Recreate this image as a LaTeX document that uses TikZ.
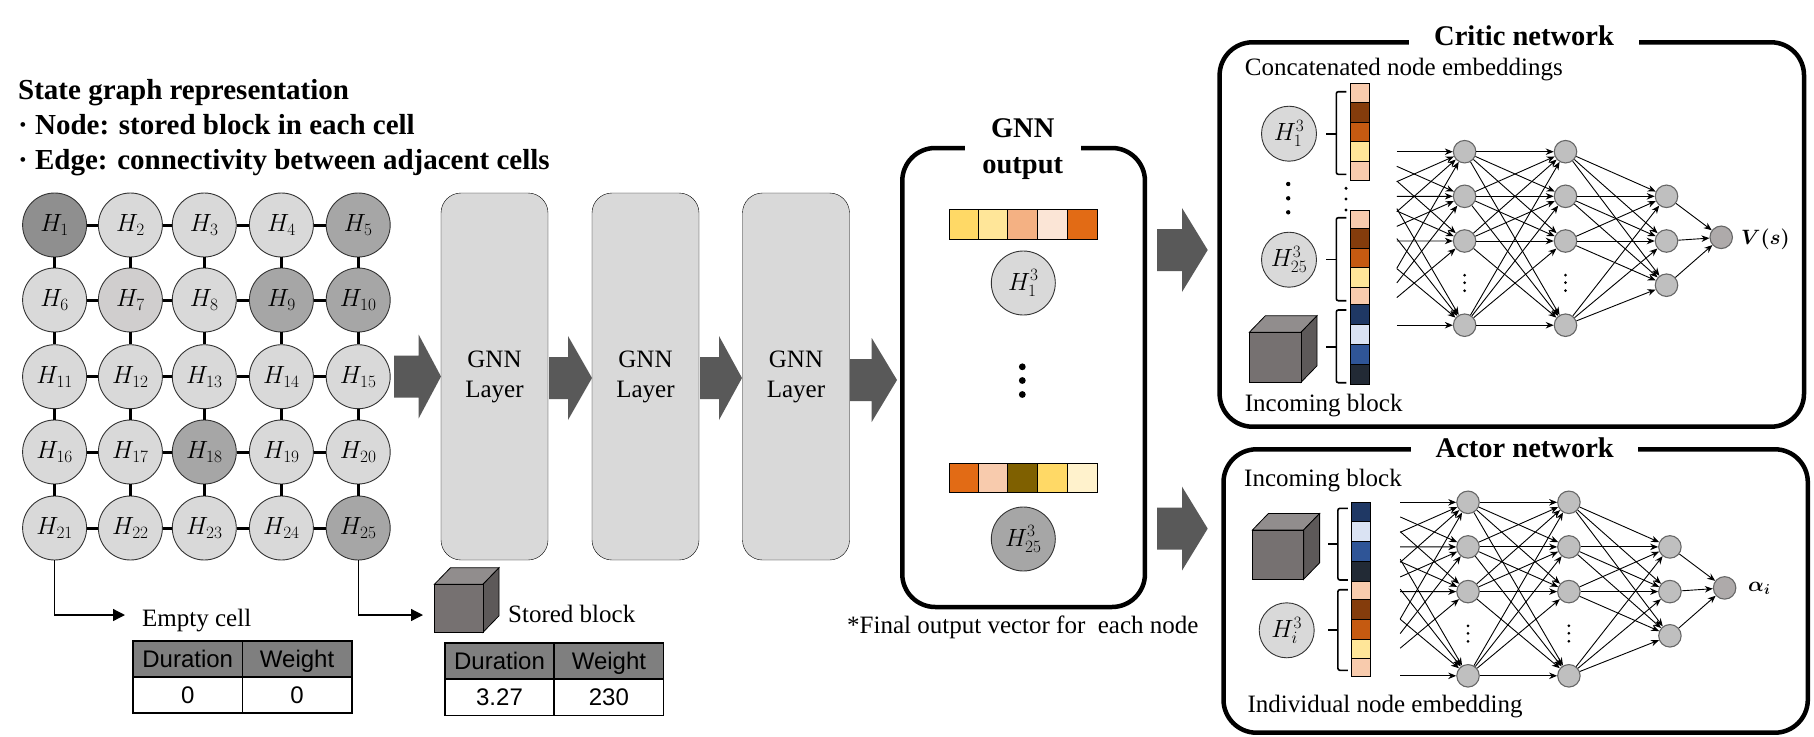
\documentclass[tikz,border=0pt]{standalone}
\usepackage{fontspec}
\setmainfont{Liberation Serif}
\newfontfamily\arialfont{Liberation Sans}
\DeclareMathSizes{25}{25}{19}{15}
\usetikzlibrary{arrows.meta,calc}

\definecolor{cellgray}{HTML}{D9D9D9}
\definecolor{midgray}{HTML}{A6A6A6}
\definecolor{darkgray}{HTML}{8F8F8F}
\definecolor{warmgray}{HTML}{D0CECE}
\definecolor{arrowgray}{HTML}{595959}
\definecolor{headgray}{HTML}{7F7F7F}
\definecolor{cubefront}{HTML}{767171}
\definecolor{cubetop}{HTML}{918D8D}
\definecolor{cubeside}{HTML}{5D5959}
\definecolor{peach}{HTML}{F8CBAD}
\definecolor{umber}{HTML}{843C0C}
\definecolor{rust}{HTML}{C55A11}
\definecolor{sand}{HTML}{FFE699}
\definecolor{gold}{HTML}{FFD966}
\definecolor{salmon}{HTML}{F4B183}
\definecolor{blush}{HTML}{FBE5D6}
\definecolor{flame}{HTML}{E26B15}
\definecolor{olive}{HTML}{7F6000}
\definecolor{cream}{HTML}{FFF2CC}
\definecolor{navy}{HTML}{1F3864}
\definecolor{paleblue}{HTML}{DAE3F3}
\definecolor{steel}{HTML}{2F5597}
\definecolor{slate}{HTML}{222A35}
\definecolor{netgray}{HTML}{BFBFBF}
\definecolor{outgray}{HTML}{AEAAAA}

\tikzset{
  serif25/.style={font=\fontsize{25}{30}\selectfont},
  bold29/.style={font=\fontsize{29}{36}\selectfont\bfseries},
  plainlabel/.style={anchor=base west, inner sep=0pt, serif25},
  headline/.style={anchor=base west, inner sep=0pt, bold29},
  hnode/.style={circle, draw=black!80, line width=0.9pt, minimum size=64pt, inner sep=0pt, font=\fontsize{25}{30}\selectfont},
  smallh/.style={hnode, minimum size=55pt},
  gridedge/.style={line width=3pt},
  gnnlayer/.style={draw, fill=cellgray, rounded corners=20pt, minimum width=107pt, minimum height=367pt, align=center, inner sep=0pt, serif25},
  roundbox/.style={draw, line width=4.5pt, rounded corners=33pt, inner sep=0pt},
  boxtitle/.style={fill=white, inner sep=0pt, align=center, font=\fontsize{28.5}{36}\selectfont\bfseries},
  elbow/.style={line width=1.3pt, -{Triangle[length=12pt,width=12pt]}},
  tablehead/.style={draw, line width=1.6pt, fill=headgray, minimum width=109.4pt, minimum height=36.5pt, inner sep=0pt, text height=17.2pt, text depth=0pt, font=\fontsize{24}{28}\selectfont\arialfont},
  tablecell/.style={tablehead, fill=white},
  veccell/.style={draw, line width=1pt},
  stripcell/.style={draw, line width=0.9pt},
  stripbrace/.style={line width=1.6pt, rounded corners=2pt},
  netnode/.style={circle, draw=black!60, line width=1.1pt, fill=netgray, minimum size=22.5pt, inner sep=0pt},
  netedge/.style={line width=0.9pt, -{Stealth[length=8pt,width=6.5pt]}},
  valuelabel/.style={anchor=west, inner sep=0pt, font=\fontsize{21}{26}\selectfont},
}

\newcommand\bigarrow[4]{% tail, head base, tip, centre
  \fill[arrowgray] (#1,#4-21) -- (#2,#4-21) -- (#2,#4-42) -- (#3,#4) -- (#2,#4+42) -- (#2,#4+21) -- (#1,#4+21) -- cycle ;
}
\newcommand\blockcube[4]{% left, top, right, bottom of the front face
  \draw[fill=cubetop, line width=0.8pt] (#1,#2) -- (#1+16,#2-16.5) -- (#3+16,#2-16.5) -- (#3,#2) -- cycle ;
  \draw[fill=cubeside, line width=0.8pt] (#3,#2) -- (#3+16,#2-16.5) -- (#3+16,#4-16.5) -- (#3,#4) -- cycle ;
  \draw[fill=cubefront, line width=0.8pt] (#1,#2) rectangle (#3,#4) ;
}
\newcommand\embrace[4]{% x, top, bottom, nub
  \draw[stripbrace] (#1+10,#2) -- (#1,#2) -- (#1,#3) -- (#1+10,#3) ;
  \draw[line width=1.6pt] (#1,#4) -- (#1-10,#4) ;
}
\newcommand\drawnet[3]{% name prefix, x and y of the first hidden node
  \begin{scope}[shift={(#2,#3)}, name prefix=#1]
    \foreach \i/\y in {1/0,2/44.6,3/89.3,4/173.5}{
      \coordinate (in\i) at (-100.9,\y) ;
      \draw (0,\y) node[netnode](a\i) {} ;
      \draw (100.9,\y) node[netnode](b\i) {} ;
    }
    \foreach \i/\y in {1/44.6,2/89.3,3/133.5}
      \draw (201.9,\y) node[netnode](c\i) {} ;
    \draw (256.6,85.6) node[netnode, fill=outgray](out) {} ;
    \foreach \i in {1,2,3,4}
      \foreach \j in {1,2,3,4}{
        \draw[netedge] ($(in\i)!0.328!(a\j)$) -- (a\j) ;
        \draw[netedge] (a\i) -- (b\j) ;
      }
    \foreach \i in {1,2,3,4}
      \foreach \j in {1,2,3}
        \draw[netedge] (b\i) -- (c\j) ;
    \foreach \j in {1,2,3}
      \draw[netedge] (c\j) -- (out) ;
    \foreach \x in {0,100.9}
      \foreach \y in {123.5,131,139}
        \fill (\x,\y) circle[radius=1.5pt] ;
  \end{scope}
}

\begin{document}
\begin{tikzpicture}[x=1pt, y=-1pt]
\useasboundingbox (0,0) rectangle (1814,736) ;

% state graph
\draw (18,99.3) node[headline](statetitle) {State graph representation} ;
\draw (18,134) node[headline](statenode) {· Node: stored block in each cell} ;
\draw (18,169.3) node[headline](stateedge) {· Edge: connectivity between adjacent cells} ;
\foreach \n/\x/\y/\c in {
  1/54.6/225/darkgray, 2/130.4/225/cellgray, 3/204.3/225/cellgray, 4/281.4/225/cellgray, 5/358.2/225/midgray,
  6/54.6/300/cellgray, 7/130.4/300/warmgray, 8/204.3/300/cellgray, 9/281.4/300/midgray, 10/358.2/300/midgray,
  11/54.6/376.7/cellgray, 12/130.4/376.7/cellgray, 13/204.3/376.7/cellgray, 14/281.4/376.7/cellgray, 15/358.2/376.7/cellgray,
  16/54.6/452/cellgray, 17/130.4/452/cellgray, 18/204.3/452/midgray, 19/281.4/452/cellgray, 20/358.2/452/cellgray,
  21/54.6/528/cellgray, 22/130.4/528/cellgray, 23/204.3/528/cellgray, 24/281.4/528/cellgray, 25/358.2/528/midgray}
  \draw (\x,\y) node[hnode, fill=\c](h\n) {$H_{\n}$} ;
\foreach \r in {0,5,10,15,20}
  \foreach \c in {1,2,3,4}{
    \pgfmathtruncatemacro\a{\r+\c}
    \pgfmathtruncatemacro\b{\a+1}
    \draw[gridedge] (h\a) -- (h\b) ;
  }
\foreach \a in {1,...,20}{
  \pgfmathtruncatemacro\b{\a+5}
  \draw[gridedge] (h\a) -- (h\b) ;
}

% cell details
\coordinate (emptyend) at (125,615) ;
\coordinate (storedend) at (423,615) ;
\draw[elbow] (h21) |- (emptyend) ;
\draw[elbow] (h25) |- (storedend) ;
\draw (142,626) node[plainlabel](emptylabel) {Empty cell} ;
\blockcube{434.4}{584.3}{483}{632.3}
\draw (508,622.7) node[plainlabel](storedlabel) {Stored block} ;
\draw (187.7,659) node[tablehead](durA) {Duration} ;
\draw (297.1,659) node[tablehead](wgtA) {Weight} ;
\draw (187.7,695) node[tablecell](durAval) {0} ;
\draw (297.1,695) node[tablecell](wgtAval) {0} ;
\draw (499.5,661) node[tablehead](durB) {Duration} ;
\draw (608.9,661) node[tablehead](wgtB) {Weight} ;
\draw (499.5,697.2) node[tablecell](durBval) {3.27} ;
\draw (608.9,697.2) node[tablecell](wgtBval) {230} ;

% gnn layers
\draw (494.5,376.5) node[gnnlayer](layerA) {GNN\\Layer} ;
\draw (645.5,376.5) node[gnnlayer](layerB) {GNN\\Layer} ;
\draw (796,376.5) node[gnnlayer](layerC) {GNN\\Layer} ;
\bigarrow{394}{418.6}{441}{376.5}
\bigarrow{549}{568}{592}{378}
\bigarrow{700}{719}{742}{378}
\bigarrow{850}{871.7}{897}{380}
\bigarrow{1157}{1182}{1207.7}{250}
\bigarrow{1157}{1182}{1207.7}{528.6}

% gnn output
\draw (1023.6,377.5) node[roundbox, minimum width=242.7pt, minimum height=459pt](outputbox) {} ;
\draw (1022.7,149.5) node[boxtitle, minimum width=115.7pt](outputtitle) {GNN\\output} ;
\foreach \xa/\xb/\c in {949.3/978.3/gold, 978.3/1007.3/sand, 1007.3/1037.3/salmon, 1037.3/1067.7/blush, 1067.7/1097.7/flame}
  \draw[veccell, fill=\c] (\xa,209.3) rectangle (\xb,239.3) ;
\foreach \xa/\xb/\c in {949.3/978.3/flame, 978.3/1007.3/peach, 1007.3/1037.3/olive, 1037.3/1067.7/gold, 1067.7/1097.7/cream}
  \draw[veccell, fill=\c] (\xa,463.6) rectangle (\xb,492) ;
\draw (1023.3,283) node[hnode, fill=cellgray](outA) {$H_{1}^{3}$} ;
\draw (1023.3,539) node[hnode, fill=midgray](outB) {$H_{25}^{3}$} ;
\foreach \y in {366.8,380.5,394.5}
  \fill (1022.3,\y) circle[radius=3.4pt] ;
\draw (847,633) node[plainlabel](outputnote) {*Final output vector for\ \ each node} ;

% critic network
\draw (1511.8,234.5) node[roundbox, minimum width=584.4pt, minimum height=384.4pt](criticbox) {} ;
\draw (1524,45) node[boxtitle, anchor=base, minimum width=229.7pt](critictitle) {Critic network} ;
\draw (1244.7,75.3) node[plainlabel](criticconcat) {Concatenated node embeddings} ;
\draw (1289,133.7) node[smallh, fill=cellgray](criticA) {$H_{1}^{3}$} ;
\draw (1289,259.7) node[smallh, fill=cellgray](criticB) {$H_{25}^{3}$} ;
\foreach \y in {184,198.3,212.3}
  \fill (1288.2,\y) circle[radius=2.2pt] ;
\foreach \y in {188.3,199,210}
  \fill (1346,\y) circle[radius=1.7pt] ;
\foreach \ya/\yb/\c in {83.7/102.7/peach, 102.7/122.7/umber, 122.7/141.7/rust, 141.7/161.7/sand, 161.7/180.3/peach,
    210/228.7/peach, 228.7/248.7/umber, 248.7/267.7/rust, 267.7/287.7/sand, 287.7/304.7/peach,
    304.7/324.7/navy, 324.7/344.3/paleblue, 344.3/364.3/steel, 364.3/384.3/slate}
  \draw[stripcell, fill=\c] (1350.6,\ya) rectangle (1369.5,\yb) ;
\embrace{1336.3}{91.7}{174.3}{133.7}
\embrace{1336.3}{217.7}{300.7}{259.3}
\embrace{1336.3}{310}{382.7}{346.7}
\blockcube{1249.3}{332.3}{1301}{382.3}
\draw (1244.7,411) node[plainlabel](criticblock) {Incoming block} ;
\drawnet{critic}{1464.6}{151.7}
\draw (1741,239) node[valuelabel](criticvalue) {{\boldmath$V(s)$}} ;

% actor network
\draw (1515.65,591) node[roundbox, minimum width=584.3pt, minimum height=283.4pt](actorbox) {} ;
\draw (1524.7,457.3) node[boxtitle, anchor=base, minimum width=227.4pt](actortitle) {Actor network} ;
\draw (1244,486.7) node[plainlabel](actorblock) {Incoming block} ;
\blockcube{1252.4}{530}{1303.6}{579.3}
\foreach \ya/\yb/\c in {502.7/521.7/navy, 521.7/541.3/paleblue, 541.3/561.7/steel, 561.7/581.7/slate,
    581.7/599.7/peach, 599.7/619.7/umber, 619.7/639/rust, 639/658/sand, 658/676.3/peach}
  \draw[stripcell, fill=\c] (1351.8,\ya) rectangle (1370.2,\yb) ;
\embrace{1337.9}{508.3}{580}{544}
\embrace{1337.9}{589.7}{670.3}{630}
\draw (1286.7,630.3) node[smallh, fill=cellgray](actorA) {$H_{i}^{3}$} ;
\draw (1247.4,712.7) node[plainlabel](actorindiv) {Individual node embedding} ;
\drawnet{actor}{1468}{502.3}
\draw (1748,588) node[valuelabel](actorvalue) {{\boldmath$\alpha_i$}} ;
\end{tikzpicture}
\end{document}
